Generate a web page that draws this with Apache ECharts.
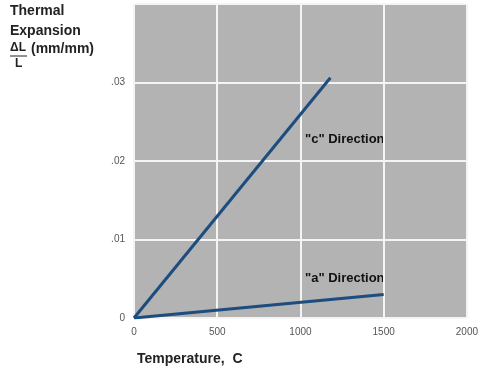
<!DOCTYPE html>
<html>
<head>
<meta charset="utf-8">
<script src="https://cdn.jsdelivr.net/npm/echarts@6/dist/echarts.min.js"></script>
<style>html,body{margin:0;padding:0;background:#fff}#c{width:481px;height:375px}</style>
</head>
<body>
<div id="c"></div>
<script>
// Data
const cTemps = [0, 1180];
const cValues = [0, 0.0306];
const aTemps = [0, 1500];
const aValues = [0, 0.0030];
const xTicks = [0, 500, 1000, 1500, 2000];
const yTicks = [0, 0.01, 0.02, 0.03];
const seriesNames = ['"c" Direction', '"a" Direction'];

const font = 'Liberation Sans, Arial, Helvetica, sans-serif';
const chart = echarts.init(document.getElementById('c'));
function pairs(xs, ys) { return xs.map((x, i) => [x, ys[i]]); }
chart.setOption({
  animation: false,
  grid: { left: 134, right: 11, top: 4, bottom: 57, show: true, backgroundColor: '#b3b3b3', borderWidth: 0 },
  xAxis: {
    type: 'value', min: 0, max: 2000, interval: 500,
    axisLine: { show: false }, axisTick: { show: false },
    splitLine: { show: true, lineStyle: { color: '#f4f4f4', width: 2 } },
    axisLabel: { color: '#555', fontSize: 10, fontFamily: font, margin: 9,
      formatter: v => xTicks.includes(v) ? String(v) : '' }
  },
  yAxis: {
    type: 'value', min: 0, max: 0.04, interval: 0.01,
    axisLine: { show: false }, axisTick: { show: false },
    splitLine: { show: true, lineStyle: { color: '#f4f4f4', width: 2 } },
    axisLabel: { color: '#555', fontSize: 10, fontFamily: font, margin: 9,
      formatter: v => {
        const t = yTicks.find(t => Math.abs(t - v) < 1e-9);
        if (t === undefined) return '';
        return t === 0 ? '0' : String(t).replace(/^0/, '');
      } }
  },
  series: [
    { name: seriesNames[0], type: 'line', data: pairs(cTemps, cValues), symbol: 'none',
      lineStyle: { color: '#1d4c7e', width: 3 } },
    { name: seriesNames[1], type: 'line', data: pairs(aTemps, aValues), symbol: 'none',
      lineStyle: { color: '#1d4c7e', width: 3 } }
  ],
  graphic: [
    { type: 'text', left: 10, top: 4, style: { text: 'Thermal', font: 'bold 14px ' + font, fill: '#222' } },
    { type: 'text', left: 10, top: 24, style: { text: 'Expansion', font: 'bold 14px ' + font, fill: '#222' } },
    { type: 'text', left: 10, top: 42, style: { text: 'ΔL', font: 'bold 12px ' + font, fill: '#222' } },
    { type: 'line', shape: { x1: 10, y1: 56, x2: 27, y2: 56 }, style: { stroke: '#222', lineWidth: 1 } },
    { type: 'text', left: 15, top: 58, style: { text: 'L', font: 'bold 12px ' + font, fill: '#222' } },
    { type: 'text', left: 31, top: 42, style: { text: '(mm/mm)', font: 'bold 14px ' + font, fill: '#222' } },
    { type: 'text', left: 305, top: 133, style: { text: seriesNames[0], font: 'bold 13px ' + font, fill: '#111' } },
    { type: 'text', left: 305, top: 272, style: { text: seriesNames[1], font: 'bold 13px ' + font, fill: '#111' } },
    { type: 'text', left: 137, top: 352, style: { text: 'Temperature,  C', font: 'bold 14px ' + font, fill: '#222' } }
  ]
});
</script>
</body>
</html>
